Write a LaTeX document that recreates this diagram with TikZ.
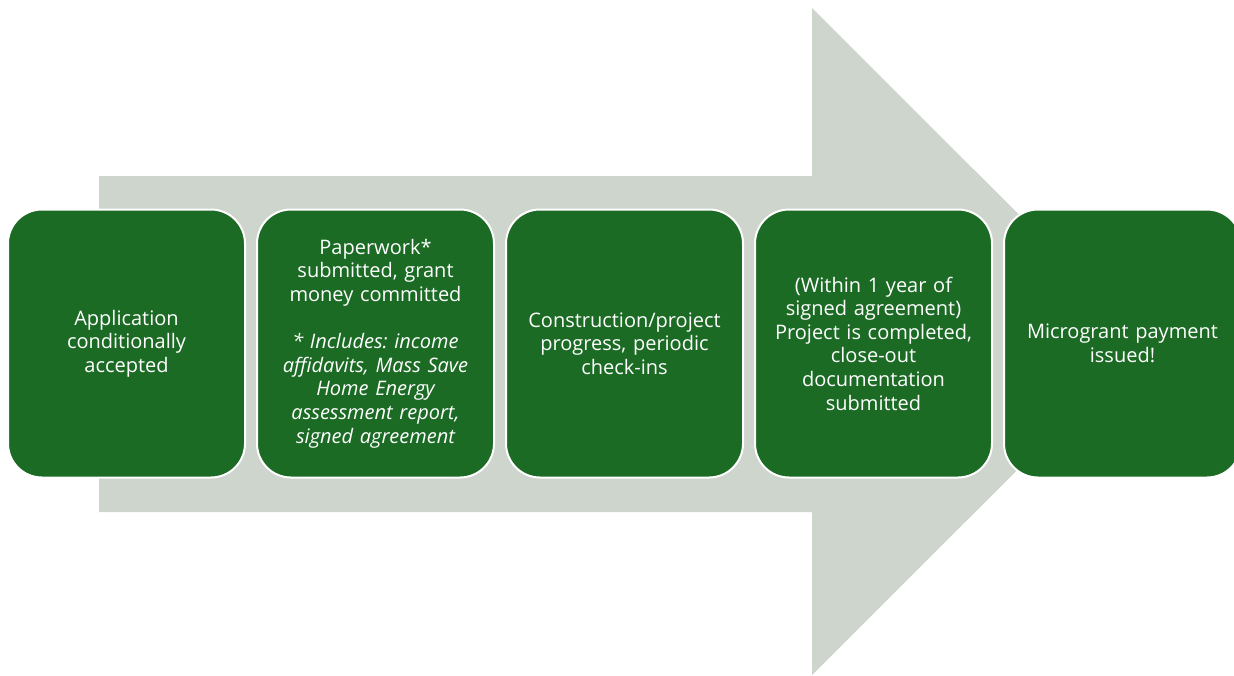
\documentclass[tikz,border=0pt]{standalone}
\usepackage{fontspec}
\setmainfont{Open Sans}
\usetikzlibrary{positioning}
\definecolor{stagegreen}{HTML}{1B6B25}
\definecolor{arrowgray}{HTML}{CED5CD}
\frenchspacing
\begin{document}
\begin{tikzpicture}[x=1pt, y=-1pt, node distance=10pt,
        stagebox/.style = {shape=rectangle, rounded corners=34pt,
            draw=white, line width=2pt, fill=stagegreen,
            text=white, align=center, text width=220pt,
            minimum width=237pt, minimum height=268pt,
            font=\fontsize{20}{23.6}\selectfont}]
    \clip (0,0) rectangle (1234,675);
    \useasboundingbox (0,0) rectangle (1234,675);
    % big background arrow
    \fill[arrowgray] (99,176) -- (812,176) -- (812,8) -- (1146,341.5)
        -- (812,675) -- (812,512) -- (99,512) -- cycle;
    % the five stages
    \node[stagebox] (accepted) at (126.5,343.5)
        {Application\\ conditionally\\ accepted};
    \node[stagebox, right=of accepted] (paperwork)
        {Paperwork*\\ submitted, grant\\ money committed\\[23.6pt]
         \itshape * Includes: income\\ affidavits, Mass Save\\ Home Energy\\
         assessment report,\\ signed agreement};
    \node[stagebox, right=of paperwork] (progress)
        {Construction/project\\ progress, periodic\\ check-ins};
    \node[stagebox, right=of progress] (completed)
        {(Within 1 year of\\ signed agreement)\\ Project is completed,\\
         close-out\\ documentation\\ submitted};
    \node[stagebox, right=of completed] (payment)
        {Microgrant payment\\ issued!};
\end{tikzpicture}
\end{document}
